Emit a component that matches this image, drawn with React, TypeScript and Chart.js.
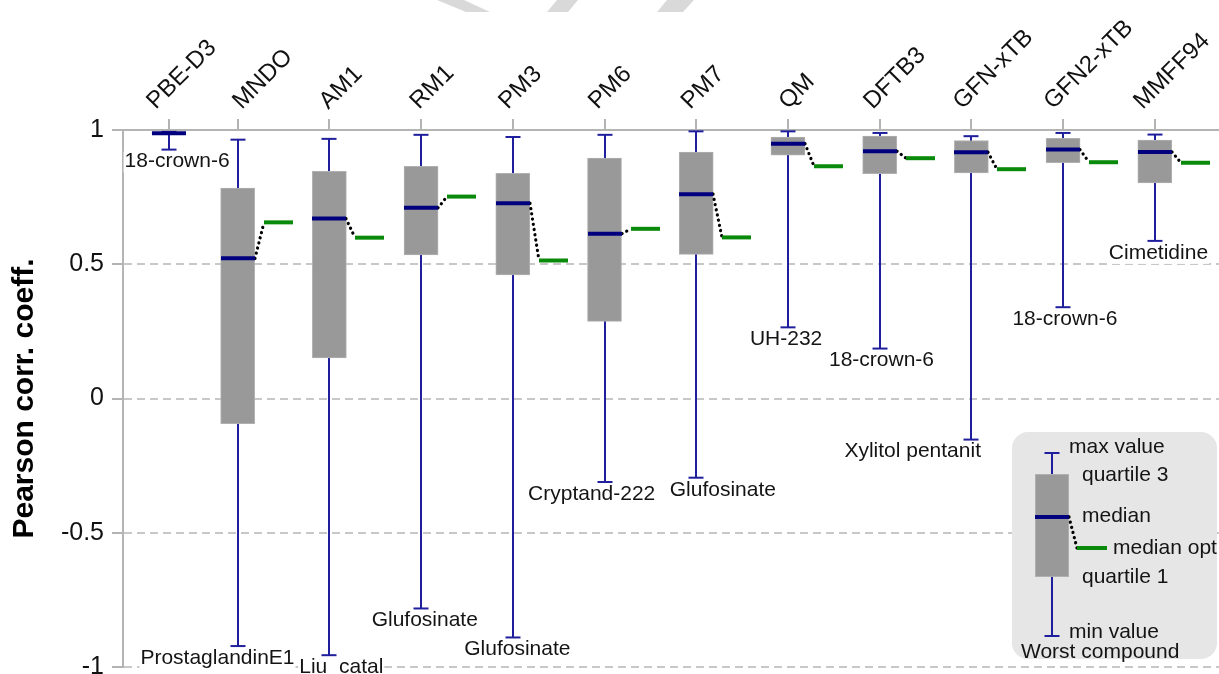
import React, { useEffect, useRef } from 'react';
import { Chart, registerables } from 'chart.js';

Chart.register(...registerables);

const FONT = '"Liberation Sans", Arial, Helvetica, sans-serif';

// ---- data ----
const methods = ['PBE-D3', 'MNDO', 'AM1', 'RM1', 'PM3', 'PM6', 'PM7', 'QM', 'DFTB3', 'GFN-xTB', 'GFN2-xTB', 'MMFF94'];
const xPositions = [0.25, 1, 2, 3, 4, 5, 6, 7, 8, 9, 10, 11];
const maxValues = [0.993, 0.964, 0.967, 0.982, 0.974, 0.982, 0.995, 0.995, 0.989, 0.977, 0.989, 0.983];
const quartile3 = [0.991, 0.784, 0.846, 0.865, 0.839, 0.895, 0.918, 0.974, 0.977, 0.961, 0.969, 0.962];
const medians = [0.988, 0.522, 0.670, 0.710, 0.727, 0.614, 0.761, 0.949, 0.921, 0.917, 0.927, 0.918];
const quartile1 = [0.985, -0.094, 0.151, 0.535, 0.460, 0.287, 0.537, 0.906, 0.837, 0.840, 0.878, 0.803];
const minValues = [0.927, -0.922, -0.956, -0.782, -0.890, -0.311, -0.295, 0.265, 0.186, -0.153, 0.340, 0.587];
const medianOpt = [null, 0.656, 0.599, 0.752, 0.514, 0.632, 0.600, 0.865, 0.895, 0.854, 0.880, 0.878];
const worstCompounds = ['18-crown-6', 'ProstaglandinE1', 'Liu_catal', 'Glufosinate', 'Glufosinate', 'Cryptand-222', 'Glufosinate', 'UH-232', '18-crown-6', 'Xylitol pentanit', '18-crown-6', 'Cimetidine'];
const yTickValues = [-1, -0.5, 0, 0.5, 1];

// ---- layout-only offsets ----
// worst-compound label horizontal shift (category units)
const labelShift = [0.09, -0.22, 0.13, 0.04, 0.05, -0.14, 0.29, -0.02, 0.02, -0.64, 0.02, 0.04];
// method-name label horizontal shift (px)
const catLabelDx = [-13, 4, -1, -2, -5, -7, -6, 0, -7, -9, -10, -12];

// ---- styles ----
const BOX_W = 34;
const CAP_W = 15;
const WHISKER = '#1f1f9e';
const MEDIAN = '#00007f';
const GREEN = '#0a8a0a';
const GRAY_AXIS = '#b4b4b4';

function drawConnector(ctx: CanvasRenderingContext2D, x1: number, y1: number, x2: number, y2: number) {
  ctx.save();
  ctx.strokeStyle = '#000';
  ctx.lineWidth = 3.2;
  ctx.lineCap = 'round';
  ctx.setLineDash([0.1, 5.2]);
  ctx.beginPath();
  ctx.moveTo(x1, y1);
  ctx.lineTo(x2, y2);
  ctx.stroke();
  ctx.restore();
}

function hLine(ctx: CanvasRenderingContext2D, x1: number, x2: number, y: number, color: string, w: number) {
  ctx.save();
  ctx.strokeStyle = color;
  ctx.lineWidth = w;
  ctx.beginPath();
  ctx.moveTo(x1, y);
  ctx.lineTo(x2, y);
  ctx.stroke();
  ctx.restore();
}

function vLine(ctx: CanvasRenderingContext2D, x: number, y1: number, y2: number, color: string, w: number) {
  ctx.save();
  ctx.strokeStyle = color;
  ctx.lineWidth = w;
  ctx.beginPath();
  ctx.moveTo(x, y1);
  ctx.lineTo(x, y2);
  ctx.stroke();
  ctx.restore();
}

const boxExtras = {
  id: 'boxExtras',
  beforeDatasetsDraw(chart: any) {
    const { ctx, scales } = chart;
    const x = scales.x, y = scales.y;
    methods.forEach((_, i) => {
      const px = Math.round(x.getPixelForValue(xPositions[i]));
      const yTop = y.getPixelForValue(maxValues[i]);
      const yBot = y.getPixelForValue(minValues[i]);
      vLine(ctx, px, yTop, yBot, WHISKER, 2);
      hLine(ctx, px - CAP_W / 2, px + CAP_W / 2, yTop, WHISKER, 2);
      hLine(ctx, px - CAP_W / 2, px + CAP_W / 2, yBot, WHISKER, 2);
    });
  },
  afterDatasetsDraw(chart: any) {
    const { ctx, scales } = chart;
    const x = scales.x, y = scales.y;
    methods.forEach((_, i) => {
      const px = Math.round(x.getPixelForValue(xPositions[i]));
      const yMed = y.getPixelForValue(medians[i]);
      if (medianOpt[i] !== null) {
        const yOpt = y.getPixelForValue(medianOpt[i] as number);
        drawConnector(ctx, px + BOX_W / 2, yMed, px + BOX_W / 2 + 9, yOpt);
        hLine(ctx, px + BOX_W / 2 + 9, px + BOX_W / 2 + 38, yOpt, GREEN, 4);
      }
      hLine(ctx, px - BOX_W / 2, px + BOX_W / 2, yMed, MEDIAN, 4);
    });
    // worst compound labels
    ctx.save();
    ctx.font = `21px ${FONT}`;
    ctx.textAlign = 'center';
    ctx.textBaseline = 'middle';
    worstCompounds.forEach((t, i) => {
      const cx = x.getPixelForValue(xPositions[i] + labelShift[i]);
      const cy = y.getPixelForValue(minValues[i]) + 12;
      const w = ctx.measureText(t).width;
      ctx.fillStyle = '#ffffff';
      ctx.fillRect(cx - w / 2 - 1, cy - 10, w + 2, 21);
      ctx.fillStyle = '#141414';
      ctx.fillText(t, cx, cy);
    });
    ctx.restore();
  },
  afterDraw(chart: any) {
    const { ctx, scales, chartArea } = chart;
    const x = scales.x;

    // rotated method names above the top axis
    ctx.save();
    ctx.font = `24px ${FONT}`;
    ctx.fillStyle = '#111111';
    ctx.textAlign = 'left';
    ctx.textBaseline = 'alphabetic';
    methods.forEach((m, i) => {
      const px = x.getPixelForValue(xPositions[i]) + catLabelDx[i];
      const py = chartArea.top - 20;
      ctx.save();
      ctx.translate(px, py);
      ctx.rotate(-Math.PI / 4);
      ctx.fillText(m, 0, 0);
      ctx.restore();
    });
    ctx.restore();

    // faint watermark fragments at the top
    ctx.save();
    ctx.fillStyle = '#d9d9d9';
    const shapes = [
      [[437, 0], [464, 0], [490, 12], [466, 12]],
      [[557, 0], [578, 0], [568, 12], [547, 12]],
      [[667, 0], [694, 0], [683, 12], [657, 12]],
    ];
    shapes.forEach((s) => {
      ctx.beginPath();
      s.forEach((p, k) => (k === 0 ? ctx.moveTo(p[0], p[1]) : ctx.lineTo(p[0], p[1])));
      ctx.closePath();
      ctx.fill();
    });
    ctx.restore();

    // legend panel
    const lx = 1012, ly = 432, lw = 205, lh = 227;
    ctx.save();
    ctx.fillStyle = '#e6e6e6';
    ctx.beginPath();
    (ctx as any).roundRect(lx, ly, lw, lh, 16);
    ctx.fill();
    ctx.restore();

    const wx = lx + 40;
    vLine(ctx, wx, ly + 21, ly + 204, WHISKER, 2);
    hLine(ctx, wx - CAP_W / 2, wx + CAP_W / 2, ly + 21, WHISKER, 2);
    hLine(ctx, wx - CAP_W / 2, wx + CAP_W / 2, ly + 204, WHISKER, 2);
    ctx.save();
    ctx.fillStyle = '#999999';
    ctx.strokeStyle = '#b0b0b0';
    ctx.lineWidth = 1;
    ctx.fillRect(wx - BOX_W / 2, ly + 42, BOX_W, 103);
    ctx.strokeRect(wx - BOX_W / 2 + 0.5, ly + 42.5, BOX_W - 1, 102);
    ctx.restore();
    drawConnector(ctx, wx + BOX_W / 2, ly + 85, wx + BOX_W / 2 + 8, ly + 116);
    hLine(ctx, wx + BOX_W / 2 + 8, wx + BOX_W / 2 + 38, ly + 116, GREEN, 4);
    hLine(ctx, wx - BOX_W / 2, wx + BOX_W / 2, ly + 85, MEDIAN, 4);

    ctx.save();
    ctx.font = `21px ${FONT}`;
    ctx.fillStyle = '#141414';
    ctx.textAlign = 'left';
    ctx.textBaseline = 'middle';
    ctx.fillText('max value', lx + 57, ly + 15);
    ctx.fillText('quartile 3', lx + 70, ly + 43);
    ctx.fillText('median', lx + 70, ly + 84);
    ctx.fillText('median opt', lx + 101, ly + 116);
    ctx.fillText('quartile 1', lx + 70, ly + 145);
    ctx.fillText('min value', lx + 57, ly + 200);
    ctx.fillText('Worst compound', lx + 9, ly + 220);
    ctx.restore();
  },
};

export default function App() {
  const canvasRef = useRef<HTMLCanvasElement | null>(null);

  useEffect(() => {
    document.body.style.margin = '0';
    document.body.style.overflow = 'hidden';
    const canvas = canvasRef.current;
    if (!canvas) return;

    const chart = new Chart(canvas, {
      type: 'bar',
      data: {
        datasets: [
          {
            data: xPositions.map((p, i) => ({ x: p, y: [quartile1[i], quartile3[i]] })) as any,
            backgroundColor: '#999999',
            borderColor: '#b0b0b0',
            borderWidth: 1,
            borderSkipped: false,
            barThickness: BOX_W,
          },
        ],
      },
      options: {
        responsive: false,
        maintainAspectRatio: false,
        animation: false,
        devicePixelRatio: 1,
        layout: { padding: { top: 0, right: 0, bottom: 7, left: 0 } },
        plugins: {
          legend: { display: false },
          tooltip: { enabled: false },
        },
        scales: {
          x: {
            type: 'linear',
            position: 'top',
            min: -0.25,
            max: 11.7,
            offset: false,
            afterBuildTicks: (s: any) => {
              s.ticks = xPositions.map((v) => ({ value: v }));
            },
            afterFit: (s: any) => {
              s.height = 130;
              s.paddingLeft = 0;
              s.paddingRight = 0;
            },
            ticks: {
              display: false,
              autoSkip: false,
              callback: (v: any) => {
                const i = xPositions.indexOf(Number(v));
                return i >= 0 ? methods[i] : '';
              },
            },
            grid: {
              offset: false,
              drawOnChartArea: false,
              drawTicks: true,
              tickLength: 11,
              color: GRAY_AXIS,
              lineWidth: 2,
            },
            border: { display: true, color: GRAY_AXIS, width: 2 },
          } as any,
          y: {
            type: 'linear',
            min: -1,
            max: 1,
            afterBuildTicks: (s: any) => {
              s.ticks = yTickValues.map((v) => ({ value: v }));
            },
            afterFit: (s: any) => {
              s.width = 123;
              s.paddingTop = 0;
              s.paddingBottom = 0;
            },
            ticks: {
              padding: 8,
              color: '#111111',
              font: { family: FONT, size: 25 },
              callback: (v: any) => String(Number(v)),
            },
            grid: {
              color: '#c8c8c8',
              lineWidth: 2,
              tickLength: 11,
              tickColor: GRAY_AXIS,
              tickBorderDash: [],
            },
            border: { display: true, color: GRAY_AXIS, width: 2, dash: [8, 5] },
            title: {
              display: true,
              text: 'Pearson corr. coeff.',
              color: '#000000',
              font: { family: FONT, size: 30, weight: 'bold', lineHeight: 1.2 },
              padding: { top: 7, bottom: 0 },
            },
          } as any,
        },
      },
      plugins: [boxExtras],
    });

    return () => chart.destroy();
  }, []);

  return (
    <div style={{ width: 1219, height: 674, position: 'relative' }}>
      <canvas ref={canvasRef} width={1219} height={674} style={{ display: 'block' }} />
    </div>
  );
}
